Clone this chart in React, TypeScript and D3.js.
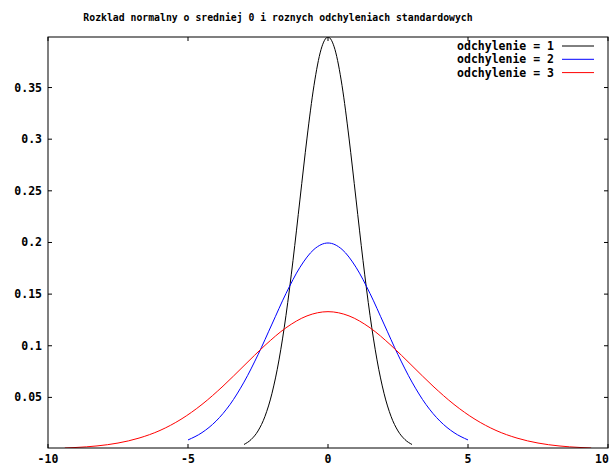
import * as d3 from "d3";

// values
const xTicks = [-10, -5, 0, 5, 10];
const yTicks = [0.05, 0.1, 0.15, 0.2, 0.25, 0.3, 0.35];

const sd1X = [-3, -2.75, -2.5, -2.25, -2, -1.75, -1.5, -1.25, -1, -0.75, -0.5, -0.25, 0, 0.25, 0.5, 0.75, 1, 1.25, 1.5, 1.75, 2, 2.25, 2.5, 2.75, 3];
const sd1Y = [0.0044, 0.0091, 0.0175, 0.0317, 0.054, 0.0863, 0.1295, 0.1826, 0.242, 0.3011, 0.3521, 0.3867, 0.3989, 0.3867, 0.3521, 0.3011, 0.242, 0.1826, 0.1295, 0.0863, 0.054, 0.0317, 0.0175, 0.0091, 0.0044];

const sd2X = [-5, -4.5, -4, -3.5, -3, -2.5, -2, -1.5, -1, -0.5, 0, 0.5, 1, 1.5, 2, 2.5, 3, 3.5, 4, 4.5, 5];
const sd2Y = [0.0088, 0.0159, 0.027, 0.0431, 0.0648, 0.0913, 0.121, 0.1506, 0.176, 0.1933, 0.1995, 0.1933, 0.176, 0.1506, 0.121, 0.0913, 0.0648, 0.0431, 0.027, 0.0159, 0.0088];

const sd3X = [-9.4, -9, -8.25, -7.5, -6.75, -6, -5.25, -4.5, -3.75, -3, -2.25, -1.5, -0.75, 0, 0.75, 1.5, 2.25, 3, 3.75, 4.5, 5.25, 6, 6.75, 7.5, 8.25, 9, 9.4];
const sd3Y = [0.001, 0.0015, 0.003, 0.0058, 0.0106, 0.018, 0.0288, 0.0432, 0.0609, 0.0807, 0.1004, 0.1174, 0.1289, 0.133, 0.1289, 0.1174, 0.1004, 0.0807, 0.0609, 0.0432, 0.0288, 0.018, 0.0106, 0.0058, 0.003, 0.0015, 0.001];

const seriesNames = ["odchylenie = 1", "odchylenie = 2", "odchylenie = 3"];
const seriesColors = ["#000000", "#0000ff", "#ff0000"];

const title = "Rozklad normalny o sredniej 0 i roznych odchyleniach standardowych";

export default function App() {
  const width = 613;
  const height = 466;
  const left = 48;
  const right = 608;
  const top = 37;
  const bottom = 448;

  const x = d3.scaleLinear().domain([-10, 10]).range([left, right]);
  const y = d3.scaleLinear().domain([0.001, 0.39894]).range([bottom, top]);

  const line = d3
    .line<[number, number]>()
    .x((d) => x(d[0]))
    .y((d) => y(d[1]))
    .curve(d3.curveMonotoneX);

  const series = [
    { xs: sd1X, ys: sd1Y },
    { xs: sd2X, ys: sd2Y },
    { xs: sd3X, ys: sd3Y },
  ];

  const labelFont = { fontFamily: "'DejaVu Sans Mono', monospace", fontWeight: 700, fontSize: 11.5 };

  return (
    <svg width={width} height={height} style={{ position: "absolute", left: 0, top: 0, background: "#fff" }}>
      <defs>
        <clipPath id="plot">
          <rect x={left} y={top} width={right - left} height={bottom - top} />
        </clipPath>
      </defs>

      <text x={278} y={21} textAnchor="middle" fontFamily="'DejaVu Sans Mono', monospace" fontWeight={600} fontSize={9.8} fill="#000">
        {title}
      </text>

      {/* ticks */}
      {xTicks.map((t) => (
        <g key={`x-${t}`}>
          <line x1={x(t)} x2={x(t)} y1={bottom} y2={bottom - 4} stroke="#000" />
          <line x1={x(t)} x2={x(t)} y1={top} y2={top + 4} stroke="#000" />
          <text x={Math.min(x(t), width - 11)} y={462.5} textAnchor="middle" {...labelFont}>
            {t}
          </text>
        </g>
      ))}
      {yTicks.map((t) => (
        <g key={`y-${t}`}>
          <line x1={left} x2={left + 4} y1={y(t)} y2={y(t)} stroke="#000" />
          <line x1={right} x2={right - 4} y1={y(t)} y2={y(t)} stroke="#000" />
          <text x={42} y={y(t)} dy="0.35em" textAnchor="end" {...labelFont}>
            {t}
          </text>
        </g>
      ))}

      <g clipPath="url(#plot)">
        {series.map((s, i) => (
          <path
            key={seriesNames[i]}
            d={line(s.xs.map((v, j) => [v, s.ys[j]] as [number, number])) ?? ""}
            fill="none"
            stroke={seriesColors[i]}
            strokeWidth={1}
          />
        ))}
      </g>

      <rect x={left} y={top} width={right - left} height={bottom - top} fill="none" stroke="#000" strokeWidth={1} />

      {/* legend */}
      {seriesNames.map((name, i) => (
        <g key={name} transform={`translate(0,${46 + i * 13.3})`}>
          <text x={554} dy="0.35em" textAnchor="end" {...labelFont}>
            {name}
          </text>
          <line x1={562} x2={594} y1={0} y2={0} stroke={seriesColors[i]} strokeWidth={1} />
        </g>
      ))}
    </svg>
  );
}
